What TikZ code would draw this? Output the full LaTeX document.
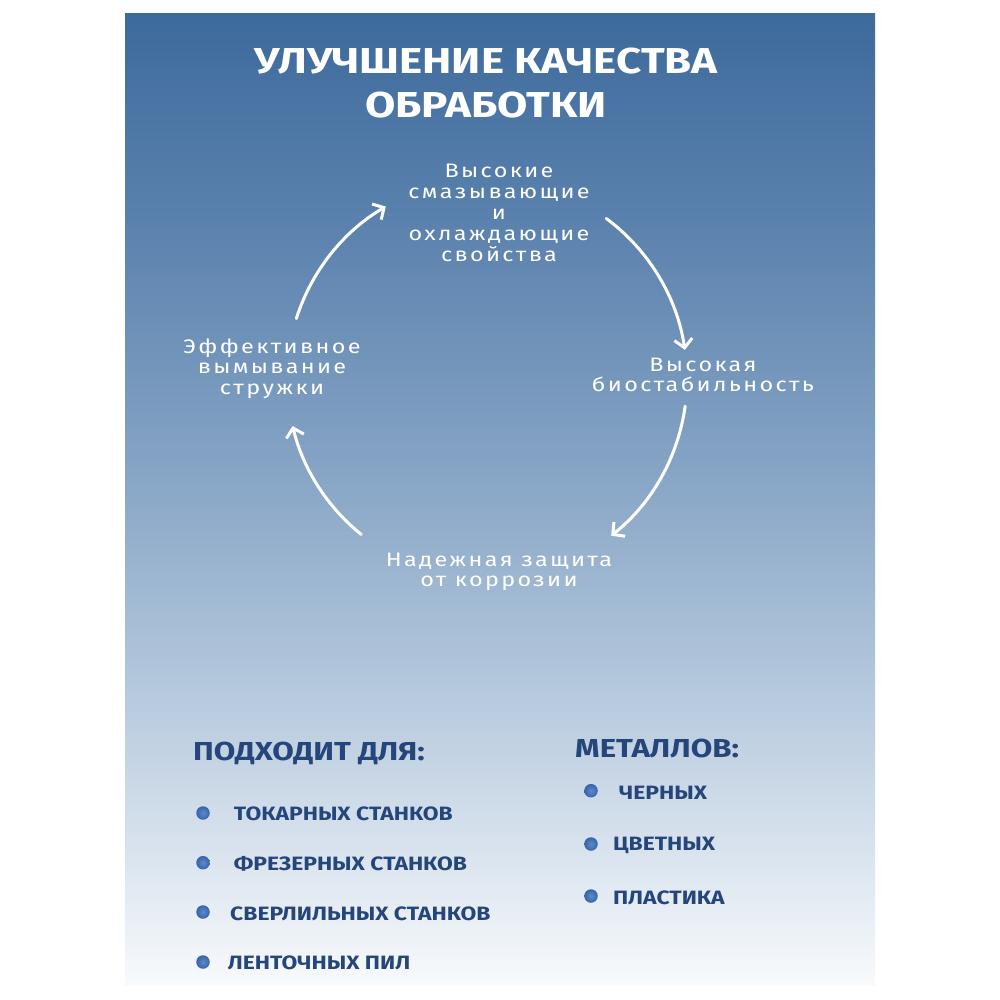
\documentclass[tikz,border=0pt]{standalone}
\usepackage{fontspec}
\setmainfont{Fira Sans}
\newfontfamily\titlefont{Fira Sans}
\newfontfamily\cycfont{Fira Sans}[LetterSpace=10]
\usetikzlibrary{arrows.meta}
\definecolor{bgA}{HTML}{3D6A9C}
\definecolor{bgB}{HTML}{5F85B0}
\definecolor{bgC}{HTML}{88A6C6}
\definecolor{bgD}{HTML}{B3C7DC}
\definecolor{bgE}{HTML}{D9E3EE}
\definecolor{bgF}{HTML}{F8FAFC}
\definecolor{navy}{HTML}{25467A}
\definecolor{dotin}{HTML}{5E8ACB}
\definecolor{dotout}{HTML}{3664A8}
\begin{document}
\begin{tikzpicture}[x=1pt,y=-1pt,
  titletext/.style={text=white,font=\titlefont\bfseries\fontsize{36}{40}\selectfont,inner sep=0,anchor=base,xscale=1.22,transform shape},
  cyc/.style={text=white,font=\cycfont\fontsize{19.5}{20.7}\selectfont,inner sep=0,anchor=base,xscale=1.2,transform shape},
  headtext/.style={text=navy,font=\bfseries\fontsize{26}{30}\selectfont,inner sep=0,anchor=base west,xscale=1.2,transform shape},
  itemtext/.style={text=navy,font=\bfseries\fontsize{19.3}{22}\selectfont,inner sep=0,anchor=base west,xscale=1.185,transform shape},
  dotnode/.style={circle,inner sep=0,minimum size=13.5pt,shade,inner color=dotin,outer color=dotout},
  cycarrow/.style={draw=white,line width=3pt,line cap=round,-{Straight Barb[length=8.5pt,width=18pt,line width=3pt]}}]
\useasboundingbox (0,0) rectangle (1000,1000);
\fill[white] (0,0) rectangle (1000,1000);
% background panel
\shade[top color=bgA,bottom color=bgB] (125,14) rectangle (875,250.5);
\shade[top color=bgB,bottom color=bgC] (125,250) rectangle (875,480.5);
\shade[top color=bgC,bottom color=bgD] (125,480) rectangle (875,680.5);
\shade[top color=bgD,bottom color=bgE] (125,680) rectangle (875,850.5);
\shade[top color=bgE,bottom color=bgF] (125,850) rectangle (875,985);
% title
\node[titletext] (t1) at (486,74) {УЛУЧШЕНИЕ КАЧЕСТВА};
\node[titletext] (t2) at (486,118) {ОБРАБОТКИ};
% cycle labels
\node[cyc] (n1) at (499,178) {\begin{tabular}[t]{@{}c@{}}Высокие\\смазывающие\\и\\охлаждающие\\свойства\end{tabular}};
\node[cyc] (n2) at (703,371) {\begin{tabular}[t]{@{}c@{}}Высокая\\биостабильность\end{tabular}};
\node[cyc] (n3) at (499,566) {\begin{tabular}[t]{@{}c@{}}Надежная защита\\от коррозии\end{tabular}};
\node[cyc] (n4) at (272,353) {\begin{tabular}[t]{@{}c@{}}Эффективное\\вымывание\\стружки\end{tabular}};
% cycle arrows
\coordinate (cc) at (487,379);
\coordinate (a1s) at ({487+200*cos(197.6)},{379+200*sin(197.6)});
\coordinate (a2s) at ({487+200*cos(306.6)},{379+200*sin(306.6)});
\coordinate (a3s) at ({487+200*cos(7.8)},{379+200*sin(7.8)});
\coordinate (a4s) at ({487+200*cos(129)},{379+200*sin(129)});
\draw[cycarrow] (a1s) arc[start angle=197.6,end angle=239.6,radius=200];
\draw[cycarrow] (a2s) arc[start angle=306.6,end angle=351.6,radius=200];
\draw[cycarrow] (a3s) arc[start angle=7.8,end angle=51.6,radius=200];
\draw[cycarrow] (a4s) arc[start angle=129,end angle=166.4,radius=200];
% bottom lists
\node[headtext] (h1) at (193,760) {ПОДХОДИТ ДЛЯ:};
\node[headtext] (h2) at (575,757) {МЕТАЛЛОВ:};
\node[dotnode] (d1) at (203,813) {};
\node[dotnode] (d2) at (203,862.7) {};
\node[dotnode] (d3) at (203,912) {};
\node[dotnode] (d4) at (203,962) {};
\node[itemtext] (i1) at (233.7,820) {ТОКАРНЫХ СТАНКОВ};
\node[itemtext] (i2) at (233.7,870.7) {ФРЕЗЕРНЫХ СТАНКОВ};
\node[itemtext] (i3) at (230,920) {СВЕРЛИЛЬНЫХ СТАНКОВ};
\node[itemtext] (i4) at (227.6,969.5) {ЛЕНТОЧНЫХ ПИЛ};
\node[dotnode] (d5) at (591,790.7) {};
\node[dotnode] (d6) at (591,844) {};
\node[dotnode] (d7) at (591,896) {};
\node[itemtext] (i5) at (619,799) {ЧЕРНЫХ};
\node[itemtext] (i6) at (612.8,850) {ЦВЕТНЫХ};
\node[itemtext] (i7) at (612.8,904) {ПЛАСТИКА};
\end{tikzpicture}
\end{document}
